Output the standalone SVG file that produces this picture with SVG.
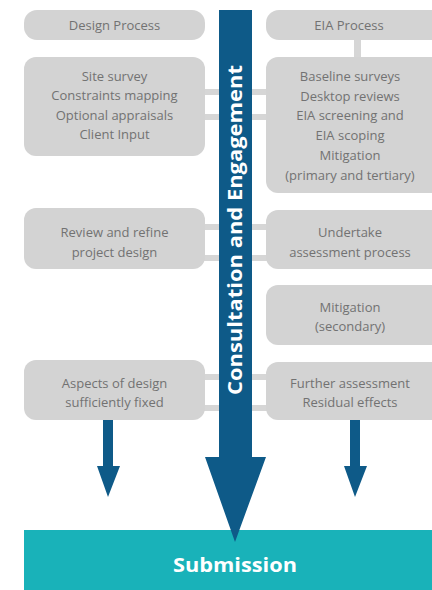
<svg xmlns="http://www.w3.org/2000/svg" width="432" height="590" viewBox="0 0 432 590">
<style>
.box{fill:#d3d3d3}
.band{fill:#d6d6d6}
.t{font-family:"Open Sans","Liberation Sans",sans-serif;font-size:13px;fill:#727272;text-anchor:middle}
.blue{fill:#0e5a88}
</style>
<rect width="432" height="590" fill="#fff"/>
<g id="connectors">
<rect class="band" x="200" y="89" width="72" height="6"/>
<rect class="band" x="200" y="114" width="72" height="6"/>
<rect class="band" x="200" y="224" width="72" height="6"/>
<rect class="band" x="200" y="255" width="72" height="6"/>
<rect class="band" x="200" y="374" width="72" height="6"/>
<rect class="band" x="200" y="405" width="72" height="6"/>
<rect class="band" x="354" y="36" width="7" height="25"/>
</g>
<g id="design-process"><rect class="box" x="24" y="10" width="181" height="30" rx="13"/><text class="t" x="114.5" y="30">Design Process</text></g>
<g id="site-survey"><rect class="box" x="24" y="57" width="181" height="99" rx="12"/>
<text class="t" x="114.5" y="80.5">Site survey</text><text class="t" x="114.5" y="100">Constraints mapping</text><text class="t" x="114.5" y="119.5">Optional appraisals</text><text class="t" x="114.5" y="139">Client Input</text></g>
<g id="review"><rect class="box" x="24" y="208" width="181" height="61" rx="12"/><text class="t" x="114.5" y="236.5">Review and refine</text><text class="t" x="114.5" y="256.5">project design</text></g>
<g id="aspects"><rect class="box" x="24" y="360" width="181" height="60" rx="12"/><text class="t" x="114.5" y="387.5">Aspects of design</text><text class="t" x="114.5" y="407">sufficiently fixed</text></g>
<g id="eia-process"><rect class="box" x="266" y="10" width="180" height="30" rx="13"/><text class="t" x="349" y="30">EIA Process</text></g>
<g id="baseline"><rect class="box" x="266" y="57" width="180" height="136" rx="12"/>
<text class="t" x="350" y="80.5">Baseline surveys</text><text class="t" x="350" y="100.5">Desktop reviews</text><text class="t" x="350" y="120">EIA screening and</text><text class="t" x="350" y="140">EIA scoping</text><text class="t" x="350" y="160">Mitigation</text><text class="t" x="350" y="180">(primary and tertiary)</text></g>
<g id="undertake"><rect class="box" x="266" y="210" width="180" height="59" rx="12"/><text class="t" x="350" y="236.5">Undertake</text><text class="t" x="350" y="256.5">assessment process</text></g>
<g id="mitigation"><rect class="box" x="266" y="285" width="180" height="60" rx="12"/><text class="t" x="350" y="311.5">Mitigation</text><text class="t" x="350" y="331">(secondary)</text></g>
<g id="further"><rect class="box" x="266" y="362" width="180" height="58" rx="12"/><text class="t" x="350" y="387.5">Further assessment</text><text class="t" x="350" y="406.5">Residual effects</text></g>
<g id="submission"><rect x="24" y="530" width="408" height="60" fill="#19b2b9"/><text x="235" y="572" font-family="Open Sans, Liberation Sans, sans-serif" font-size="20" font-weight="bold" fill="#fff" text-anchor="middle" textLength="124" lengthAdjust="spacingAndGlyphs">Submission</text></g>
<g id="consultation">
<polygon class="blue" points="219,10 252,10 252,457 266,457 235,542 205,457 219,457"/>
<text transform="translate(242,230) rotate(-90)" x="0" y="0" font-family="Open Sans, Liberation Sans, sans-serif" font-size="20" font-weight="bold" fill="#fff" text-anchor="middle" textLength="330" lengthAdjust="spacingAndGlyphs">Consultation and Engagement</text>
</g>
<g id="arrow-left"><polygon class="blue" points="103,420 113,420 113,466 120,466 108,497 97,466 103,466"/></g>
<g id="arrow-right"><polygon class="blue" points="350,420 360,420 360,466 367,466 355,497 344,466 350,466"/></g>
</svg>
